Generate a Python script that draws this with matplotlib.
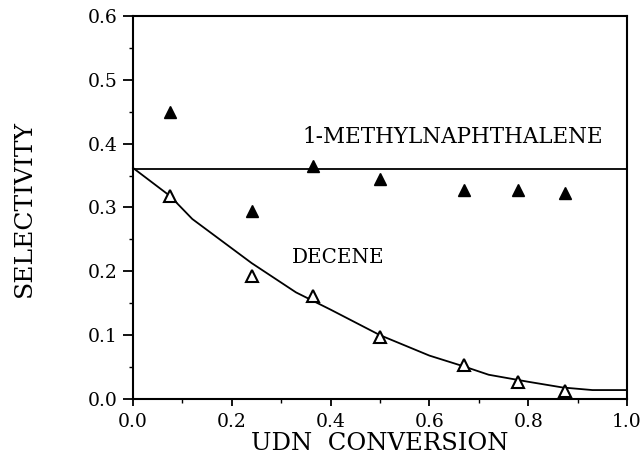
import matplotlib
matplotlib.use("Agg")
import matplotlib.pyplot as plt
from matplotlib.ticker import MultipleLocator, FormatStrFormatter

# Data
conv = [0.075, 0.24, 0.365, 0.50, 0.67, 0.78, 0.875]
mn_sel = [0.450, 0.295, 0.365, 0.345, 0.327, 0.327, 0.322]
decene_sel = [0.318, 0.192, 0.162, 0.097, 0.053, 0.027, 0.012]

mn_line_x = [0.0, 1.0]
mn_line_y = [0.360, 0.360]

curve_x = [0.0, 0.075, 0.12, 0.24, 0.33, 0.40, 0.50, 0.60, 0.67, 0.72, 0.80, 0.87, 0.93, 1.0]
curve_y = [0.362, 0.318, 0.282, 0.213, 0.167, 0.140, 0.100, 0.068, 0.051, 0.038, 0.027, 0.018, 0.014, 0.014]

plt.rcParams['font.family'] = ['DejaVu Serif']

fig = plt.figure(figsize=(6.41, 4.65), dpi=100)
ax = fig.add_axes([133/641, 1 - 399/465, 494/641, 383/465])

ax.plot(mn_line_x, mn_line_y, color='black', lw=1.3, clip_on=False)
ax.plot(curve_x, curve_y, color='black', lw=1.3, clip_on=False)
ax.plot(conv, mn_sel, linestyle='none', marker='^', ms=8.5, color='black')
ax.plot(conv, decene_sel, linestyle='none', marker='^', ms=8, mfc='white', mec='black', mew=1.5)

ax.text(0.342, 0.401, '1-METHYLNAPHTHALENE', fontsize=15.5)
ax.text(0.322, 0.213, 'DECENE', fontsize=14.3)

ax.set_xlim(0, 1.0)
ax.set_ylim(0, 0.6)
ax.xaxis.set_major_locator(MultipleLocator(0.2))
ax.xaxis.set_minor_locator(MultipleLocator(0.1))
ax.yaxis.set_major_locator(MultipleLocator(0.1))
ax.yaxis.set_minor_locator(MultipleLocator(0.05))
ax.xaxis.set_major_formatter(FormatStrFormatter('%.1f'))
ax.yaxis.set_major_formatter(FormatStrFormatter('%.1f'))
ax.tick_params(axis='x', which='major', direction='out', length=5, width=1.3, pad=5.4, labelsize=13.5)
ax.tick_params(axis='y', which='major', direction='out', length=7, width=1.3, pad=4.3, labelsize=13.5)
ax.tick_params(which='minor', direction='out', length=3, width=1.0)
for s in ax.spines.values():
    s.set_linewidth(1.5)

ax.set_xlabel('UDN  CONVERSION', fontsize=17.5)
ax.xaxis.set_label_coords(0.5, -0.086)
ax.set_ylabel('SELECTIVITY', fontsize=18)
ax.yaxis.set_label_coords(-(133 - 36) / 494, (399 - 208) / 383)

fig.savefig('out.png', dpi=100)
